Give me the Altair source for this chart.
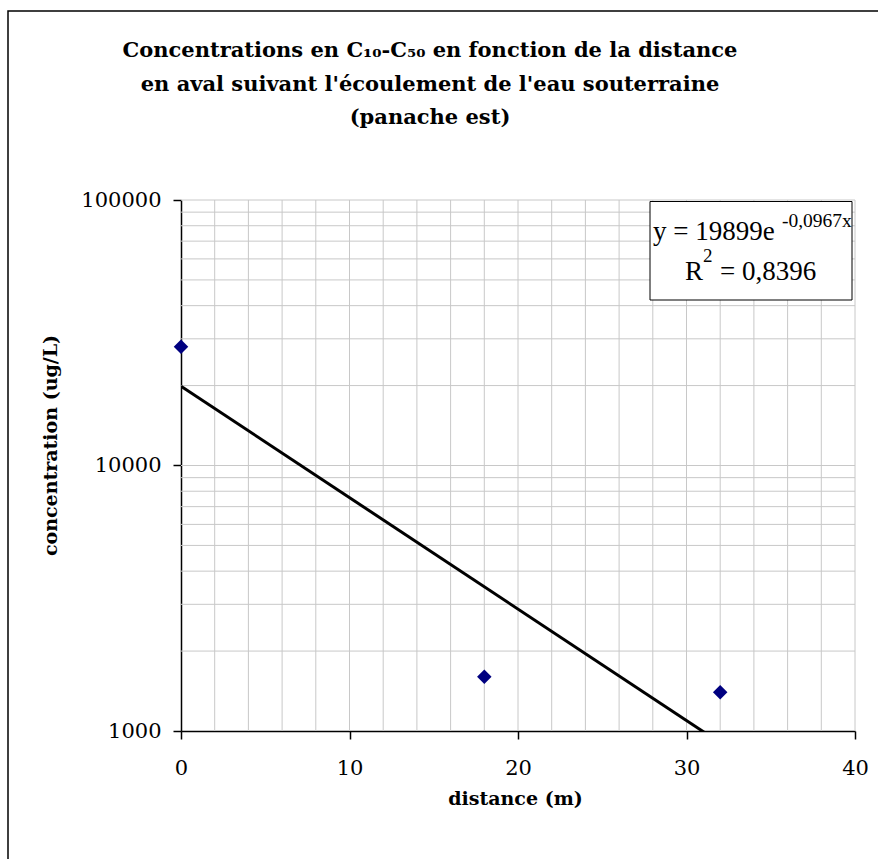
import altair as alt
import pandas as pd

# ---- data ----
distance = [0, 18, 32]
concentration = [28000, 1600, 1400]

x_ticks = [0, 10, 20, 30, 40]
y_ticks = [1000, 10000, 100000]
x_grid = [2, 4, 6, 8, 10, 12, 14, 16, 18, 20, 22, 24, 26, 28, 30, 32, 34, 36, 38, 40]
y_grid = [2000, 3000, 4000, 5000, 6000, 7000, 8000, 9000, 10000,
          20000, 30000, 40000, 50000, 60000, 70000, 80000, 90000, 100000]

title_lines = [
    "Concentrations en C\u2081\u2080-C\u2085\u2080 en fonction de la distance",
    "en aval suivant l'écoulement de l'eau souterraine",
    "(panache est)",
]
x_title = "distance (m)"
y_title = "concentration (ug/L)"
eq_main = "y = 19899e"
eq_exp = "-0,0967x"
r2_R = "R"
r2_sup = "2"
r2_rest = "= 0,8396"

W, H = 674, 531
SERIF = "DejaVu Serif"

df = pd.DataFrame({"distance": distance, "concentration": concentration})
one = pd.DataFrame({"k": [0]})

xscale = alt.Scale(domain=[0, 40], nice=False, zero=False)
yscale = alt.Scale(type="log", domain=[1000, 100000], nice=False)

x_axis = alt.Axis(values=x_ticks, title=x_title, grid=False, titleX=334, titleY=58,
                  labelFlush=False)
y_axis = alt.Axis(values=y_ticks, format="d", title=y_title, grid=False,
                  titleX=-131, titleY=245, titleAngle=-90,
                  titleAlign="center", titleBaseline="middle", labelFlush=False)

grid_color = "#c8c8c8"

grid_v = alt.Chart(pd.DataFrame({"gx": x_grid})).mark_rule(
    color=grid_color, strokeWidth=1
).encode(x=alt.X("gx:Q", scale=xscale, axis=x_axis))

grid_h = alt.Chart(pd.DataFrame({"gy": y_grid})).mark_rule(
    color=grid_color, strokeWidth=1
).encode(y=alt.Y("gy:Q", scale=yscale, axis=y_axis))

trend = alt.Chart(df).transform_calculate(
    lc="log(datum.concentration)"
).transform_regression(
    "distance", "lc", method="linear"
).transform_calculate(
    fit="exp(datum.lc)"
).mark_line(color="black", strokeWidth=3, clip=True).encode(
    x=alt.X("distance:Q", scale=xscale, axis=x_axis),
    y=alt.Y("fit:Q", scale=yscale, axis=y_axis),
)

points = alt.Chart(df).mark_point(
    shape="diamond", filled=True, color="#000080", size=210, opacity=1
).encode(
    x=alt.X("distance:Q", scale=xscale, axis=x_axis),
    y=alt.Y("concentration:Q", scale=yscale, axis=y_axis),
)

frame = alt.Chart(one).mark_rect(
    filled=False, stroke="black", strokeWidth=1.5
).encode(
    x=alt.value(-173), x2=alt.value(W + 200), y=alt.value(-189), y2=alt.value(H + 300)
)

box = alt.Chart(one).mark_rect(
    fill="white", stroke="black", strokeWidth=1
).encode(
    x=alt.value(469), x2=alt.value(671), y=alt.value(1.5), y2=alt.value(100)
)

def txt(s, x, y, size, font=SERIF, weight="normal", align="left", baseline="alphabetic"):
    return alt.Chart(one).mark_text(
        text=s, font=font, fontSize=size, fontWeight=weight,
        align=align, baseline=baseline, color="black"
    ).encode(x=alt.value(x), y=alt.value(y))

eq_font = "Liberation Serif"
texts = [
    txt(eq_main, 472, 40, 27, font=eq_font),
    txt(eq_exp, 601, 27, 19.5, font=eq_font),
    txt(r2_R, 504, 80, 27, font=eq_font),
    txt(r2_sup, 522, 62, 19, font=eq_font),
    txt(r2_rest, 539, 80, 27, font=eq_font),
]
title_y = [-149, -115, -82]
titles = [txt(t, 249, y, 21, weight="bold", align="center", baseline="middle")
          for t, y in zip(title_lines, title_y)]

chart = alt.layer(
    frame, grid_v, grid_h, trend, points, box, *texts, *titles
).properties(
    width=W, height=H,
    autosize=alt.AutoSizeParams(type="none"),
    padding={"left": 181, "top": 200, "right": 23, "bottom": 128},
).configure_view(stroke=None).configure_axis(
    domainColor="black", domainWidth=1.5, tickColor="black", tickSize=8, tickWidth=1.5,
    labelFont=SERIF, labelFontSize=21, labelColor="black",
    titleFont=SERIF, titleFontSize=19, titleFontWeight="bold", titleColor="black",
).configure_axisX(labelPadding=18).configure_axisY(labelPadding=12)

chart.save("out.html", embed_options={"renderer": "svg", "actions": False})
